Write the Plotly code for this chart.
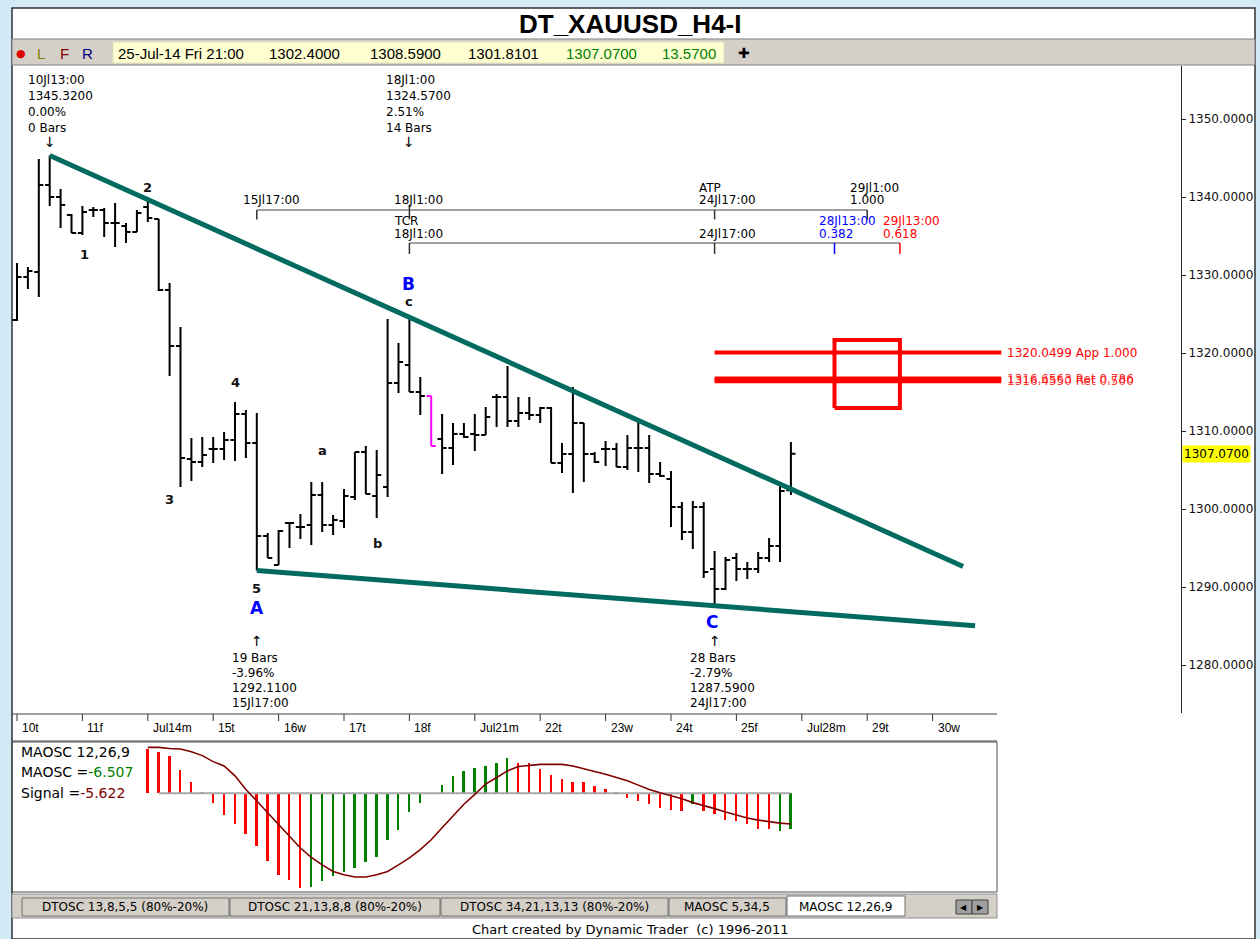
import plotly.graph_objects as go

W, H = 1260, 939

# ---------------- data ----------------
day_nums = [10, 11, 14, 15, 16, 17, 18, 21, 22, 23, 24, 25, 28, 29, 30]
day_labels = ["10t", "11f", "Jul14m", "15t", "16w", "17t", "18f", "Jul21m",
              "22t", "23w", "24t", "25f", "Jul28m", "29t", "30w"]
bar_hours = [1, 5, 9, 13, 17, 21]

opens = [1324.23, 1329.74, 1330.38, 1341.54, 1340.00, 1337.69, 1335.38, 1338.33, 1338.33, 1336.67,
         1336.28, 1335.51, 1338.72, 1337.18, 1328.08, 1320.90, 1306.41, 1306.03, 1307.69, 1307.69,
         1308.85, 1312.18, 1308.46, 1296.54, 1292.82, 1298.21, 1297.69, 1297.95, 1301.79, 1297.95,
         1298.46, 1301.54, 1307.31, 1301.67, 1302.82, 1316.15, 1318.46, 1315.00, 1314.49, 1308.97,
         1307.82, 1309.62, 1309.62, 1309.49, 1314.36, 1314.36, 1311.28, 1312.31, 1312.05, 1312.95,
         1305.90, 1307.05, 1311.03, 1307.05, 1307.69, 1307.69, 1305.38, 1307.82, 1307.82, 1304.49,
         1303.85, 1300.26, 1297.05, 1300.26, 1292.31, 1289.74, 1293.72, 1292.31, 1292.31, 1293.72,
         1295.26, 1302.40]
highs = [1331.54, 1331.03, 1344.87, 1345.32, 1341.03, 1337.82, 1338.85, 1338.72, 1338.60, 1339.23,
         1336.67, 1338.33, 1340.00, 1337.18, 1328.97, 1323.33, 1309.10, 1309.23, 1309.23, 1309.87,
         1313.72, 1312.69, 1312.31, 1296.92, 1297.31, 1298.33, 1299.36, 1303.46, 1303.46, 1299.23,
         1302.56, 1307.31, 1308.08, 1307.56, 1324.36, 1321.28, 1324.57, 1316.92, 1314.49, 1312.18,
         1311.03, 1311.03, 1312.18, 1313.08, 1314.74, 1318.33, 1314.36, 1314.36, 1313.08, 1313.08,
         1308.46, 1315.64, 1311.03, 1307.31, 1308.72, 1308.46, 1309.49, 1311.15, 1309.49, 1306.03,
         1304.87, 1300.90, 1301.03, 1300.90, 1294.62, 1293.85, 1294.36, 1293.21, 1294.49, 1296.28,
         1303.46, 1308.59]
lows = [1324.10, 1328.21, 1327.18, 1338.85, 1336.03, 1335.38, 1335.13, 1337.44, 1334.87, 1333.59,
        1334.10, 1335.51, 1336.79, 1327.95, 1317.05, 1302.82, 1303.59, 1305.38, 1305.90, 1306.28,
        1306.15, 1306.54, 1292.11, 1293.72, 1292.82, 1295.00, 1296.15, 1295.38, 1297.05, 1296.67,
        1297.56, 1301.15, 1301.92, 1298.85, 1301.54, 1314.87, 1315.00, 1312.05, 1308.08, 1304.49,
        1305.64, 1309.10, 1307.44, 1309.49, 1310.51, 1310.51, 1310.51, 1311.41, 1311.03, 1305.90,
        1304.62, 1302.05, 1303.46, 1305.90, 1305.51, 1305.38, 1305.00, 1304.74, 1303.33, 1304.10,
        1297.69, 1296.03, 1294.87, 1291.15, 1287.59, 1289.62, 1290.77, 1291.03, 1291.79, 1293.21,
        1293.21, 1301.81]
closes = [1329.74, 1330.51, 1341.54, 1340.00, 1338.97, 1335.38, 1338.08, 1338.33, 1336.67, 1336.67,
          1335.51, 1337.95, 1337.31, 1328.08, 1320.90, 1306.54, 1306.03, 1306.92, 1307.69, 1308.85,
          1312.18, 1308.46, 1296.54, 1293.72, 1297.18, 1298.21, 1297.69, 1301.79, 1297.95, 1298.59,
          1301.67, 1307.31, 1301.92, 1304.36, 1316.15, 1318.85, 1315.00, 1314.49, 1308.08, 1307.82,
          1309.62, 1309.23, 1309.49, 1311.79, 1314.36, 1311.28, 1312.31, 1312.05, 1312.95, 1305.90,
          1307.05, 1311.03, 1307.05, 1306.03, 1307.69, 1305.38, 1307.82, 1307.82, 1304.49, 1304.23,
          1300.26, 1297.05, 1300.26, 1291.92, 1289.74, 1293.46, 1292.31, 1292.31, 1293.72, 1295.26,
          1302.31, 1307.07]
magenta_bar = 38
last_low_text = "1301.8101"
last_change = 13.57

# MAOSC 12,26,9 (starts at bar 12)
osc_start = 12
maosc = [8.2, 7.6, 6.9, 4.2, 2.1, 0.1, -1.7, -3.9, -5.7, -7.5,
         -9.7, -12.4, -14.9, -15.8, -17.4, -17.1, -16.1, -15.2, -14.3, -13.6,
         -12.6, -11.7, -8.5, -6.7, -3.5, -1.8, -0.1, 1.6, 3.1, 4.1,
         4.7, 5.0, 5.6, 6.4, 5.6, 5.5, 4.4, 3.3, 2.6, 2.0,
         2.0, 1.35, 0.75, 0.1, -0.8, -1.4, -2.0, -2.6, -3.1, -3.2,
         -2.0, -3.2, -3.7, -4.8, -5.1, -5.7, -6.6, -6.6, -6.8, -6.507]
maosc_dir = ["d"] * 15 + ["u"] * 19 + ["d"] * 16 + ["u"] + ["d"] * 7 + ["u", "u"]
signal = [8.4, 8.4, 8.2, 8.1, 7.6, 6.9, 5.8, 5.0, 3.2, 0.7,
          -1.4, -3.6, -5.7, -7.85, -10.0, -11.7, -13.1, -14.3, -14.9, -15.3,
          -15.3, -14.9, -14.3, -13.1, -11.8, -10.3, -8.5, -6.3, -4.2, -2.0,
          -0.2, 1.7, 2.9, 4.1, 4.9, 5.15, 5.3, 5.3, 5.3, 5.0,
          4.5, 4.1, 3.5, 2.9, 2.3, 1.5, 0.7, 0.1, -0.4, -1.0,
          -1.7, -2.2, -2.8, -3.4, -4.0, -4.5, -4.9, -5.2, -5.45, -5.622]
maosc_last = -6.507
signal_last = -5.622

# trendlines (anchor bars / prices) and their right ends (bar units)
upper_tl_bars = [3, 36]
upper_tl_prices = [1345.32, 1324.57]
upper_tl_end = 86.8
lower_tl_bars = [22, 64]
lower_tl_prices = [1292.11, 1287.59]
lower_tl_end = 87.9

# price targets
target_prices = [1320.0499, 1316.6563, 1316.4550]
target_names = ["App 1.000", "Ret 0.786", "Ret 0.500"]
target_start, target_end = 64, 90.3
box_bars = [75, 81]
box_prices = [1312.95, 1321.67]

# time projections
atp_level, tcr_level = 1338.33, 1334.10
atp_bars = [22, 36, 64, 78]
tcr_bars = [36, 64, 75, 81]

wave_labels = [("1", 6.15, 1332.69, "n"), ("2", 12.0, 1341.28, "n"), ("3", 14.0, 1301.28, "n"),
               ("4", 20.0, 1316.28, "n"), ("5", 22.0, 1289.87, "n"), ("A", 22.0, 1287.31, "m"),
               ("a", 28.07, 1307.56, "n"), ("b", 33.1, 1295.64, "n"), ("B", 35.9, 1328.85, "m"),
               ("c", 36.0, 1326.54, "n"), ("C", 63.8, 1285.51, "m")]

yticks = [1280, 1290, 1300, 1310, 1320, 1330, 1340, 1350]
tab_names = ["DTOSC 13,8,5,5 (80%-20%)", "DTOSC 21,13,8,8 (80%-20%)",
             "DTOSC 34,21,13,13 (80%-20%)", "MAOSC 5,34,5", "MAOSC 12,26,9"]

# ---------------- helpers ----------------
def px(x):
    return x / W

def py(y):
    return 1 - y / H

def blabel(i):
    return f"{day_nums[i // 6]}Jl{bar_hours[i % 6]}:00"

PXB = 10.9          # pixels per bar
X0 = (12 - 17) / PXB
X1 = X0 + (1181 - 12) / PXB
X1b = X0 + (997 - 12) / PXB
Y0 = 1350 - (713 - 119) / 7.8
Y1 = 1350 + (119 - 66) / 7.8

TEAL = "#006b5e"
FONT = "DejaVu Sans"
SANS = "Liberation Sans"
BG = "#d3ebf7"

fig = go.Figure()

n = len(opens)
idx = list(range(n))
def mask(a, keep):
    return [v if keep(i) else None for i, v in enumerate(a)]

fig.add_trace(go.Ohlc(
    x=idx,
    open=mask(opens, lambda i: i != magenta_bar), high=mask(highs, lambda i: i != magenta_bar),
    low=mask(lows, lambda i: i != magenta_bar), close=mask(closes, lambda i: i != magenta_bar),
    increasing=dict(line=dict(color="black", width=2)),
    decreasing=dict(line=dict(color="black", width=2)),
    tickwidth=0.42, showlegend=False, hoverinfo="skip"))
fig.add_trace(go.Ohlc(
    x=idx,
    open=mask(opens, lambda i: i == magenta_bar), high=mask(highs, lambda i: i == magenta_bar),
    low=mask(lows, lambda i: i == magenta_bar), close=mask(closes, lambda i: i == magenta_bar),
    increasing=dict(line=dict(color="#ff00ff", width=2)),
    decreasing=dict(line=dict(color="#ff00ff", width=2)),
    tickwidth=0.42, showlegend=False, hoverinfo="skip"))

# trendlines
def extend(bars, prices, end):
    slope = (prices[1] - prices[0]) / (bars[1] - bars[0])
    return [bars[0], end], [prices[0], prices[0] + slope * (end - bars[0])]

for b, p, e in [(upper_tl_bars, upper_tl_prices, upper_tl_end),
                (lower_tl_bars, lower_tl_prices, lower_tl_end)]:
    xs, ys = extend(b, p, e)
    fig.add_trace(go.Scatter(x=xs, y=ys, mode="lines", line=dict(color=TEAL, width=5),
                             showlegend=False, hoverinfo="skip"))

# time projection lines
GRAY = "#808080"
fig.add_trace(go.Scatter(x=[atp_bars[0], atp_bars[-1]], y=[atp_level, atp_level], mode="lines",
                         line=dict(color=GRAY, width=1.5), showlegend=False, hoverinfo="skip"))
fig.add_trace(go.Scatter(x=[tcr_bars[0], tcr_bars[-1]], y=[tcr_level, tcr_level], mode="lines",
                         line=dict(color=GRAY, width=1.5), showlegend=False, hoverinfo="skip"))
tx, ty = [], []
for b in atp_bars:
    top = atp_level + (0.7 if b == 36 else 0)
    tx += [b, b, None]
    ty += [top, atp_level - 1.2, None]
for b in tcr_bars[:2]:
    tx += [b, b, None]
    ty += [tcr_level, tcr_level - 1.4, None]
fig.add_trace(go.Scatter(x=tx, y=ty, mode="lines", line=dict(color="#333333", width=1.5),
                         showlegend=False, hoverinfo="skip"))
for b, col in [(tcr_bars[2], "#0000ff"), (tcr_bars[3], "#ff0000")]:
    fig.add_trace(go.Scatter(x=[b, b], y=[tcr_level, tcr_level - 1.4], mode="lines",
                             line=dict(color=col, width=1.5), showlegend=False, hoverinfo="skip"))

# red targets
fig.add_trace(go.Scatter(x=[target_start, target_end], y=[target_prices[0]] * 2, mode="lines",
                         line=dict(color="#ff0000", width=4), showlegend=False, hoverinfo="skip"))
for p in target_prices[1:]:
    fig.add_trace(go.Scatter(x=[target_start, target_end], y=[p, p], mode="lines",
                             line=dict(color="#ff0000", width=5), showlegend=False, hoverinfo="skip"))
fig.add_trace(go.Scatter(x=[box_bars[0], box_bars[1], box_bars[1], box_bars[0], box_bars[0]],
                         y=[box_prices[0], box_prices[0], box_prices[1], box_prices[1], box_prices[0]],
                         mode="lines", line=dict(color="#ff0000", width=4),
                         showlegend=False, hoverinfo="skip"))

# oscillator
oidx = list(range(osc_start, osc_start + len(maosc)))
fig.add_trace(go.Scatter(x=[oidx[1], oidx[-1]], y=[0, 0], mode="lines", xaxis="x2", yaxis="y2",
                         line=dict(color="#a8a8a8", width=2), showlegend=False, hoverinfo="skip"))
fig.add_trace(go.Bar(x=oidx, y=maosc, width=0.17, xaxis="x2", yaxis="y2",
                     marker=dict(color=["#ff0000" if d == "d" else "#008000" for d in maosc_dir],
                                 line=dict(width=0)),
                     showlegend=False, hoverinfo="skip"))
fig.add_trace(go.Scatter(x=oidx, y=signal, mode="lines", xaxis="x2", yaxis="y2",
                         line=dict(color="#800000", width=1.6), showlegend=False, hoverinfo="skip"))

# ---------------- decorations ----------------
shapes = []
def rect(x0, y0, x1, y1, fill, line="#404040", lw=1, layer="below"):
    shapes.append(dict(type="rect", xref="paper", yref="paper", x0=px(x0), x1=px(x1),
                       y0=py(y1), y1=py(y0), fillcolor=fill, line=dict(color=line, width=lw),
                       layer=layer))
def hline(x0, x1, y, color="#404040", lw=1):
    shapes.append(dict(type="line", xref="paper", yref="paper", x0=px(x0), x1=px(x1),
                       y0=py(y), y1=py(y), line=dict(color=color, width=lw)))

rect(12, 8, 1255, 939, "white", line="#303030", lw=1.5)
rect(12, 39, 1255, 65, "#d4d0c8", line="#808080")
rect(113, 42, 724, 63, "#ffffd2", line="#e0e0c0")
hline(12, 997, 714)
hline(12, 997, 741)
rect(12, 742, 997, 892, "rgba(0,0,0,0)", line="#505050")
rect(12, 894, 997, 918, "#d4d0c8", line="#909090")
tab_x = [(22, 229), (230, 440), (441, 668), (669, 786), (787, 905)]
for k, (a, b) in enumerate(tab_x):
    rect(a, 896 if k == 4 else 898, b, 916, "white" if k == 4 else "#d4d0c8", line="#707070")
rect(956, 900, 972, 914, "#a0a0a0", line="#404040")
rect(972, 900, 988, 914, "#a0a0a0", line="#404040")

for k in range(len(day_labels)):
    shapes.append(dict(type="line", xref="x", yref="paper", x0=6 * k, x1=6 * k,
                       y0=py(714), y1=py(721), line=dict(color="#333", width=1)))

ann = []
def text(x, y, s, size=12, color="black", family=FONT, xanchor="left", xref="paper",
         xshift=0, yanchor="middle", yref="paper", bg=None):
    d = dict(x=x, y=y, xref=xref, yref=yref, text=s, showarrow=False, xanchor=xanchor,
             yanchor=yanchor, xshift=xshift, font=dict(size=size, color=color, family=family))
    if bg:
        d["bgcolor"] = bg
    ann.append(d)

# header
text(px(630), py(24), "<b>DT_XAUUSD_H4-I</b>", size=26, family=SANS, xanchor="center")
text(px(14), py(53), "●", size=11, color="#e00000")
text(px(35), py(53), "L", size=15, color="#808000", family=SANS)
text(px(58), py(53), "F", size=15, color="#800000", family=SANS)
text(px(80), py(53), "R", size=15, color="#000080", family=SANS)
last = n - 1
hdr = [(116, f"{day_nums[last // 6]}-Jul-14 Fri {bar_hours[last % 6]}:00", "black"),
       (267, f"{opens[last]:.4f}", "black"), (368, f"{highs[last]:.4f}", "black"),
       (466, last_low_text, "black"),
       (564, f"{closes[last]:.4f}", "#008000"),
       (660, f"{last_change:.4f}", "#008000")]
for x, s, c in hdr:
    text(px(x), py(53), s, size=15, color=c, family=SANS)
text(px(736), py(53), "✚", size=14)

# date labels
for k, lab in enumerate(day_labels):
    text(6 * k, py(728), lab, size=12, family=SANS, xref="x", xshift=3)

# price tag
text(px(1182), closes[last], f"{closes[last]:.4f}", size=12, yref="y", bg="#ffff00")

# pivot info blocks
def block(bar, lines, y_first, spacing, xshift, color="black"):
    for k, s in enumerate(lines):
        text(bar, py(y_first + k * spacing), s, size=12, xref="x", xshift=xshift, color=color)

hi0, hiB, loA, loC = 3, 36, 22, 64
block(hi0, [blabel(hi0), f"{highs[hi0]:.4f}", "0.00%", "0 Bars"], 80, 16, -24)
block(hiB, [blabel(hiB), f"{highs[hiB]:.4f}",
            f"{(highs[hiB] - lows[loA]) / lows[loA] * 100:.2f}%", f"{hiB - loA} Bars"], 80, 16, -25)
block(loA, [f"{loA - hi0} Bars", f"{(lows[loA] - highs[hi0]) / highs[hi0] * 100:.2f}%",
            f"{lows[loA]:.4f}", blabel(loA)], 658, 15, -27)
block(loC, [f"{loC - hiB} Bars", f"{(lows[loC] - highs[hiB]) / highs[hiB] * 100:.2f}%",
            f"{lows[loC]:.4f}", blabel(loC)], 658, 15, -27)
for b in (hi0, hiB):
    text(b, py(142), "↓", size=14, xref="x", xanchor="center")
for b in (loA, loC):
    text(b, py(641), "↑", size=14, xref="x", xanchor="center")

# time projection labels
block(atp_bars[0], [blabel(atp_bars[0])], 200, 12, -16)
block(atp_bars[1], [blabel(atp_bars[1])], 200, 12, -17)
block(atp_bars[2], ["ATP", blabel(atp_bars[2])], 188, 12, -18)
block(atp_bars[3], [blabel(atp_bars[3]), "1.000"], 188, 12, -19)
block(tcr_bars[0], ["TCR", blabel(tcr_bars[0])], 221, 13, -17)
block(tcr_bars[1], [blabel(tcr_bars[1])], 234, 13, -18)
block(tcr_bars[2], [blabel(tcr_bars[2]), "0.382"], 221, 13, -18, color="#0000ff")
block(tcr_bars[3], [blabel(tcr_bars[3]), "0.618"], 221, 13, -19, color="#ff0000")

# target labels
text(target_end, target_prices[0], f"{target_prices[0]:.4f} {target_names[0]}", size=12,
     color="#ff0000", xref="x", yref="y", xshift=4)
for p, nm in zip(target_prices[1:], target_names[1:]):
    text(target_end, p, f"{p:.4f} {nm}", size=12, color="rgba(255,0,0,0.8)", xref="x",
         yref="y", xshift=4)

# wave labels
for s, b, p, kind in wave_labels:
    if kind == "m":
        text(b, p, f"<b>{s}</b>", size=17, color="#0000ff", xref="x", yref="y", xanchor="center")
    else:
        text(b, p, f"<b>{s}</b>", size=13, color="#111111", xref="x", yref="y", xanchor="center")

# oscillator labels
text(px(19), py(752), "MAOSC 12,26,9", size=14)
text(px(19), py(772), f"MAOSC =<span style='color:#008000'>{maosc_last:.3f}</span>", size=14)
text(px(19), py(793), f"Signal =<span style='color:#800000'>{signal_last:.3f}</span>", size=14)

# tabs and footer
for (a, b), nm in zip(tab_x, tab_names):
    text(px((a + b) / 2), py(907), nm, size=12, xanchor="center")
text(px(964), py(907), "◀", size=8, xanchor="center")
text(px(980), py(907), "▶", size=8, xanchor="center")
text(px(630), py(929), "Chart created by Dynamic Trader  (c) 1996-2011", size=13, xanchor="center")

fig.update_layout(
    width=W, height=H, margin=dict(l=0, r=0, t=0, b=0),
    paper_bgcolor=BG, plot_bgcolor="white", showlegend=False,
    shapes=shapes, annotations=ann, bargap=0,
    xaxis=dict(domain=[px(12), px(1181)], range=[X0, X1], visible=False, fixedrange=True,
               rangeslider=dict(visible=False), anchor="y"),
    yaxis=dict(domain=[py(713), py(66)], range=[Y0, Y1], side="right", anchor="x",
               showgrid=False, zeroline=False, tickvals=yticks,
               ticktext=[f"{v:.4f}" for v in yticks], ticks="outside", ticklen=4,
               tickcolor="#222", showline=True, linecolor="#222", linewidth=1,
               tickfont=dict(family=FONT, size=12, color="#111"), fixedrange=True),
    xaxis2=dict(domain=[px(12), px(997)], range=[X0, X1b], visible=False, anchor="y2",
                fixedrange=True),
    yaxis2=dict(domain=[py(892), py(742)], range=[-18.05, 9.39], visible=False, anchor="x2",
                fixedrange=True),
)

fig.write_html("out.html", config={"displayModeBar": False},
               post_script="document.body.style.margin='0px';"
                           "document.body.style.background='" + BG + "';")
